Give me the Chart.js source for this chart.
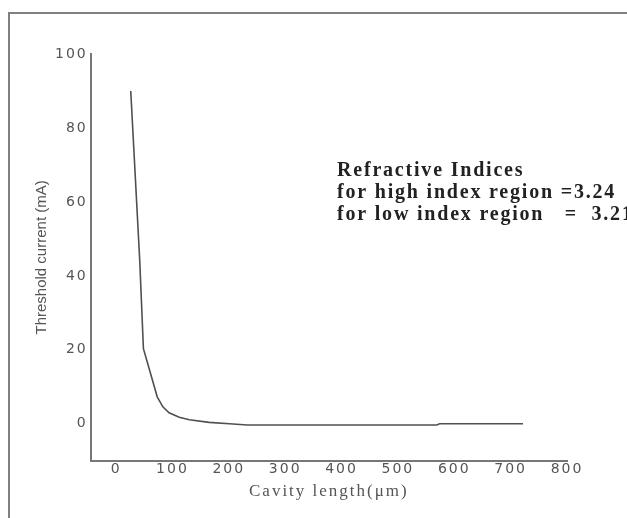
<!DOCTYPE html>
<html>
<head>
<meta charset="utf-8">
<script src="https://cdn.jsdelivr.net/npm/chart.js@4/dist/chart.umd.min.js"></script>
<style>
  html, body { margin: 0; padding: 0; background: #fff; }
  #wrap { position: relative; width: 627px; height: 518px; }
</style>
</head>
<body>
<div id="wrap"><canvas id="canvas-1"></canvas></div>
<script>
// threshold current vs cavity length
var cavityLength = [26, 42, 48.5, 73, 83, 94, 112, 130, 165, 201, 233, 569, 574, 722];
var thresholdCurrent = [90, 44, 20.3, 7.3, 4.6, 3.0, 1.8, 1.1, 0.4, 0, -0.3, -0.3, 0, 0];
var xTickValues = [0, 100, 200, 300, 400, 500, 600, 700, 800];
var yTickValues = [0, 20, 40, 60, 80, 100];
var noteLines = [
  'Refractive Indices',
  'for high index region =3.24',
  'for low index region   =  3.21'
];

var points = cavityLength.map(function (x, i) {
  return { x: x, y: thresholdCurrent[i] };
});

// spacing for the wide scanned-looking lettering, plus frame and note.
// y title/border are drawn after the datasets (z = 1) so the title gets no spacing
var paperPlugin = {
  id: 'paper',
  beforeLayout: function (chart) {
    chart.ctx.letterSpacing = '2px';
  },
  beforeDraw: function (chart) {
    var ctx = chart.ctx;
    ctx.letterSpacing = '2px';
    ctx.save();
    ctx.strokeStyle = '#808080';
    ctx.lineWidth = 2;
    ctx.beginPath();
    ctx.moveTo(9, chart.height);
    ctx.lineTo(9, 13);
    ctx.lineTo(chart.width, 13);
    ctx.stroke();
    ctx.restore();
  },
  afterDatasetsDraw: function (chart) {
    chart.ctx.letterSpacing = '0px';
  },
  afterDraw: function (chart) {
    var ctx = chart.ctx;
    ctx.save();
    ctx.letterSpacing = '1.8px';
    ctx.fillStyle = '#222';
    ctx.font = 'bold 20px "Liberation Serif", "Times New Roman", serif';
    ctx.textBaseline = 'alphabetic';
    noteLines.forEach(function (line, i) {
      ctx.fillText(line, 337, 176 + i * 22);
    });
    ctx.restore();
  }
};

var lineChart = new Chart(document.getElementById('canvas-1'), {
  type: 'line',
  data: {
    datasets: [{
      data: points,
      borderColor: '#505050',
      borderWidth: 1.6,
      pointRadius: 0,
      fill: false,
      tension: 0
    }]
  },
  options: {
    responsive: true,
    maintainAspectRatio: false,
    animation: false,
    layout: {
      padding: { left: 33, right: 60, top: 54, bottom: 16 }
    },
    plugins: {
      legend: { display: false },
      tooltip: { enabled: false }
    },
    scales: {
      x: {
        type: 'linear',
        min: -45,
        max: 800,
        afterBuildTicks: function (scale) {
          scale.ticks = xTickValues.map(function (v) { return { value: v }; });
        },
        grid: { display: false, drawTicks: false },
        border: { display: true, color: '#777', width: 2 },
        ticks: {
          padding: 0,
          color: '#555',
          maxRotation: 0,
          font: { family: '"DejaVu Sans", sans-serif', size: 14 }
        },
        title: {
          display: true,
          text: 'Cavity length(μm)',
          color: '#555',
          padding: { top: 4, bottom: 0 },
          font: { family: '"Liberation Serif", serif', size: 17 }
        }
      },
      y: {
        type: 'linear',
        min: -10,
        max: 100,
        afterBuildTicks: function (scale) {
          scale.ticks = yTickValues.map(function (v) { return { value: v }; });
        },
        grid: { display: false, drawTicks: false, z: 1 },
        border: { display: true, color: '#777', width: 2, z: 1 },
        ticks: {
          padding: 3,
          color: '#555',
          font: { family: '"DejaVu Sans", sans-serif', size: 14 }
        },
        title: {
          display: true,
          text: 'Threshold current (mA)',
          color: '#555',
          padding: { top: 0, bottom: 1 },
          font: { family: '"Liberation Sans", sans-serif', size: 15 }
        }
      }
    }
  },
  plugins: [paperPlugin]
});
</script>
</body>
</html>
